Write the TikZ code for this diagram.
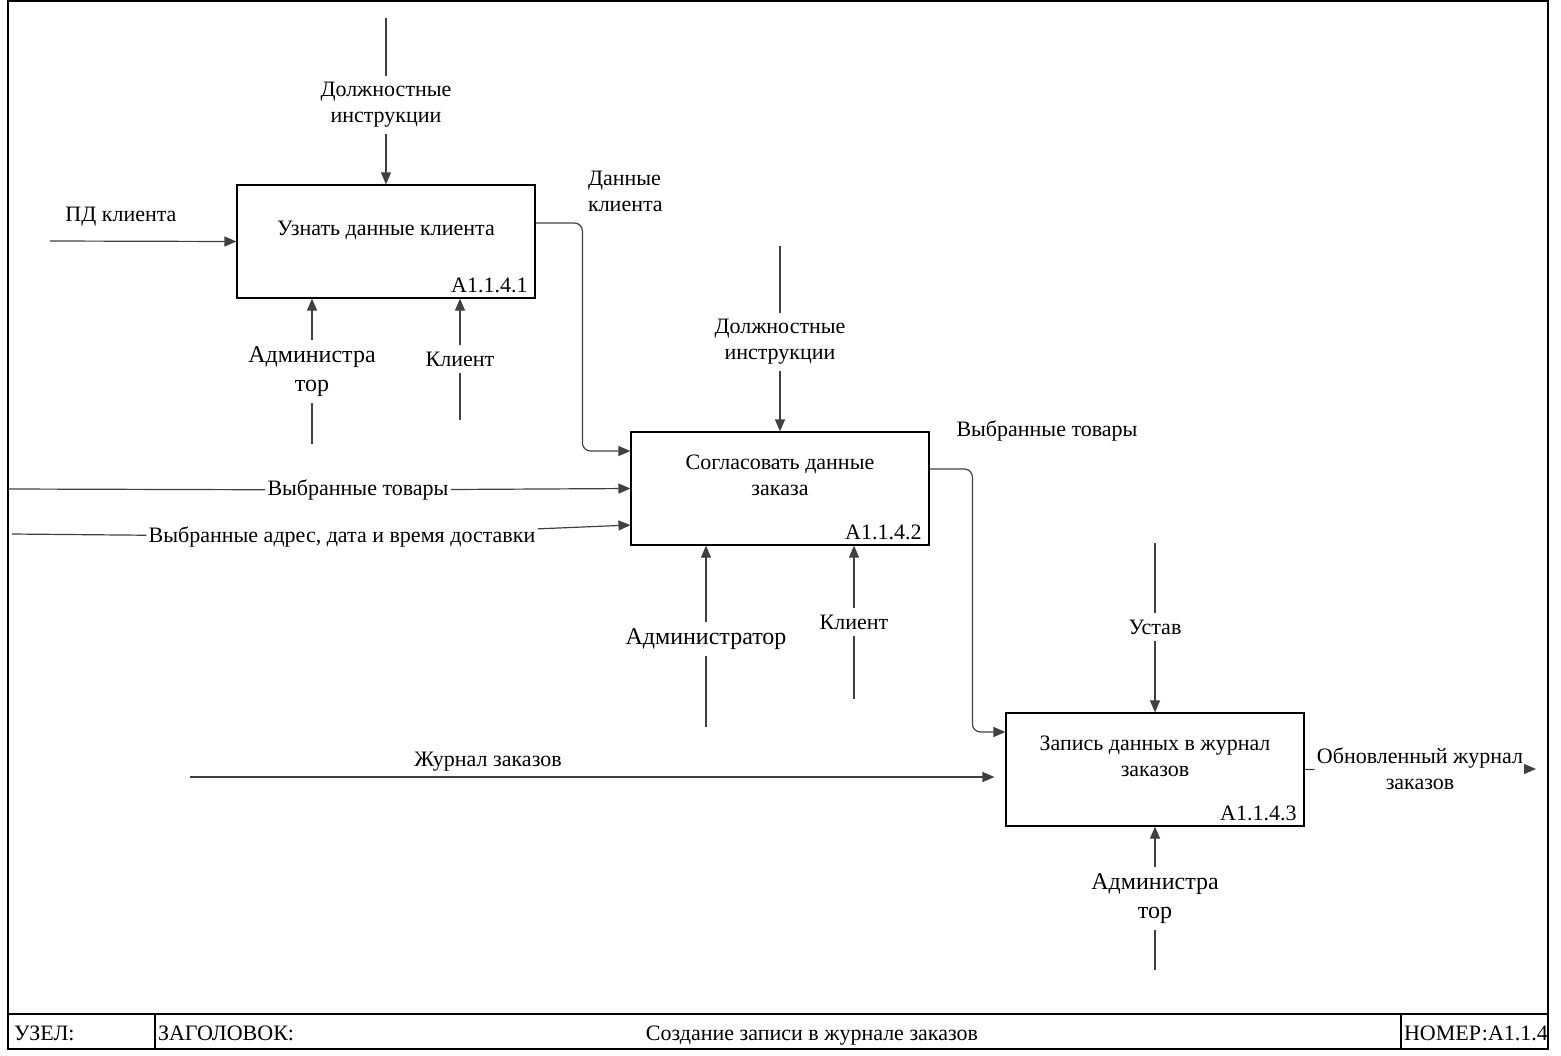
\documentclass[tikz,border=0pt]{standalone}
\usepackage{fontspec}
\setmainfont{Liberation Serif}
\usetikzlibrary{arrows.meta}

\begin{document}
\begin{tikzpicture}[x=0.5pt,y=-0.5pt,
    font=\fontsize{11}{13}\selectfont,
    func/.style={draw=black, line width=0.6pt, minimum width=149pt, minimum height=56.5pt, inner sep=0pt},
    flow/.style={draw=black!75, line width=0.6pt, -{Triangle[length=6pt,width=5pt]}, color=black!75},
    tag/.style={fill=white, inner sep=3pt, align=center},
    big/.style={font=\fontsize{12}{14.5}\selectfont},
    num/.style={anchor=base east, xshift=-0.5pt, yshift=3pt}]
    \useasboundingbox (0,0) rectangle (1561,1055);
    % Draw the frame and the title bar
    \draw[line width=1pt] (8,1) rectangle (1548,1049);
    \draw[line width=1pt] (8,1014) -- (1548,1014);
    \foreach \x in {155, 1401}{
      \draw[line width=0.8pt] (\x,1014) -- (\x,1049);
    }
    \node[anchor=base west] (node) at (7,1040) {УЗЕЛ:};
    \node[anchor=base west] (head) at (151,1040) {ЗАГОЛОВОК:};
    \node[anchor=base] (title) at (812,1040) {Создание записи в журнале заказов};
    \node[anchor=base west] (nr) at (1397,1040) {НОМЕР:A1.1.4};
    % Draw the function boxes and their numbers
    \foreach \n/\x/\y in {1/386/241.5, 2/780/488.5, 3/1155/769.5}{
      \node[func] (f\n) at (\x,\y) {};
      \node[num] (f\n n) at (f\n.south east) {A1.1.4.\n};
    }
    \node (f1t) at (386,230) {Узнать данные клиента};
    \node[align=center] (f2t) at (780,475) {Согласовать данные\\заказа};
    \node[align=center] (f3t) at (1155,756) {Запись данных в журнал\\заказов};
    % Controls
    \coordinate (c1) at (386,18);
    \coordinate (c2) at (780,246);
    \coordinate (c3) at (1155,543);
    \node[tag] (c1t) at (386,105) {Должностные\\инструкции};
    \node[tag] (c2t) at (780,342) {Должностные\\инструкции};
    \node[tag] (c3t) at (1155,627) {Устав};
    \draw[flow] (c1) -- (c1t) -- (c1t |- f1.north);
    \draw[flow] (c2) -- (c2t) -- (c2t |- f2.north);
    \draw[flow] (c3) -- (c3t) -- (c3t |- f3.north);
    % Mechanisms
    \coordinate (m1) at (312,444);
    \coordinate (m2) at (460,420);
    \coordinate (m3) at (706,727);
    \coordinate (m4) at (854,699);
    \coordinate (m5) at (1155,970);
    \node[tag, big] (m1t) at (312,371.5) {Администра\\тор};
    \node[tag] (m2t) at (460,359) {Клиент};
    \node[tag, big] (m3t) at (706,639) {Администратор};
    \node[tag] (m4t) at (854,622) {Клиент};
    \node[tag, big] (m5t) at (1155,898.5) {Администра\\тор};
    \draw[flow] (m1) -- (m1t) -- (m1t |- f1.south);
    \draw[flow] (m2) -- (m2t) -- (m2t |- f1.south);
    \draw[flow] (m3) -- (m3t) -- (m3t |- f2.south);
    \draw[flow] (m4) -- (m4t) -- (m4t |- f2.south);
    \draw[flow] (m5) -- (m5t) -- (m5t |- f3.south);
    % Inputs
    \coordinate (i1) at (50,241);
    \coordinate (i2) at (9,489);
    \coordinate (i3) at (12,534);
    \coordinate (i4) at (190,777);
    \node (i1t) at (121,217) {ПД клиента};
    \node[tag, inner sep=1pt] (i2t) at (358,490) {Выбранные товары};
    \node[tag, inner sep=1pt] (i3t) at (342,537) {Выбранные адрес, дата и время доставки};
    \node (i4t) at (488,762) {Журнал заказов};
    \draw[flow] (i1) -- (f1.west);
    \draw[flow] (i2) -- (i2t) -- (f2.west);
    \draw[flow] (i3) -- (i3t) -- ([yshift=-18.25pt]f2.west);
    \draw[flow] (i4) -- ([xshift=-5.5pt,yshift=-3.75pt]f3.west);
    % Outputs
    \node[align=left, anchor=west] (o1t) at (581,191) {Данные\\клиента};
    \node (o2t) at (1047,431) {Выбранные товары};
    \node[tag, inner sep=1pt] (o3t) at (1420,769) {Обновленный журнал\\заказов};
    \coordinate (o3) at (1536,769);
    \draw[flow, rounded corners=4pt] ([yshift=9.25pt]f1.east) -| ([xshift=-24pt,yshift=18.75pt]f2.west) -- ([yshift=18.75pt]f2.west);
    \draw[flow, rounded corners=4pt] ([yshift=9.75pt]f2.east) -| ([xshift=-16.5pt,yshift=18.75pt]f3.west) -- ([yshift=18.75pt]f3.west);
    \draw[flow] (f3.east) -- (o3t) -- (o3);
\end{tikzpicture}
\end{document}
